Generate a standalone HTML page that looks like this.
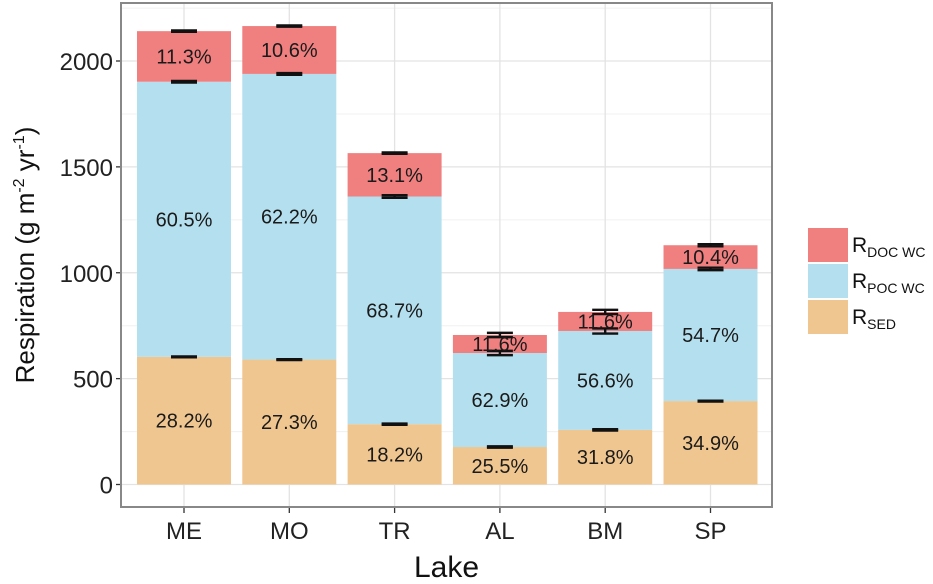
<!DOCTYPE html>
<html><head><meta charset="utf-8"><style>
body{margin:0;background:#fff;}
svg{display:block;font-family:"Liberation Sans",Arial,sans-serif;}
</style></head><body>
<svg id="c" width="933" height="584"></svg>
<script>
const lakes=["ME","MO","TR","AL","BM","SP"];
const sedVals=[603,590,285,177,258,394];
const pocTop=[1902,1939,1360,621,725,1018];
const totalVals=[2141,2165,1565,706,815,1130];
const sedPct=["28.2%","27.3%","18.2%","25.5%","31.8%","34.9%"];
const pocPct=["60.5%","62.2%","68.7%","62.9%","56.6%","54.7%"];
const docPct=["11.3%","10.6%","13.1%","11.6%","11.6%","10.4%"];
const yTicks=[0,500,1000,1500,2000];
const errSed=[2,2,3,3,3,2];
const errPoc=[4,4,6,10,12,6];
const errTot=[3,3,3,10,10,5];

const NS="http://www.w3.org/2000/svg";
const svg=document.getElementById('c');
const L=121,R=772,T=3,B=507;
const y0=484.5,k=(484.5-61)/2000;
const y=v=>y0-v*k;
const step=105.3,x=i=>184+i*step,bw=94;
function mk(t,a,p){const e=document.createElementNS(NS,t);for(const n in a)e.setAttribute(n,a[n]);(p||svg).appendChild(e);return e;}

mk('rect',{x:L,y:T,width:R-L,height:B-T,fill:'#fff'});
for(let i=0;i<yTicks.length-1;i++){const m=(yTicks[i]+yTicks[i+1])/2;mk('line',{x1:L,x2:R,y1:y(m),y2:y(m),stroke:'#f0f0f0','stroke-width':1});}
mk('line',{x1:L,x2:R,y1:y(2250),y2:y(2250),stroke:'#f0f0f0'});
yTicks.forEach(v=>{
 const g=mk('line',{x1:L,x2:R,y1:y(v),y2:y(v),stroke:'#e3e3e3','stroke-width':1.3});
 
 mk('line',{x1:L-5,x2:L,y1:y(v),y2:y(v),stroke:'#333','stroke-width':1.3});
 const t=mk('text',{x:L-8,y:y(v)+9,'text-anchor':'end','font-size':24,fill:'#222'});
 t.textContent=v;
 
});
lakes.forEach((n,i)=>{
 mk('line',{x1:x(i),x2:x(i),y1:T,y2:B,stroke:'#e3e3e3','stroke-width':1.3});
 mk('line',{x1:x(i),x2:x(i),y1:B,y2:B+6,stroke:'#333','stroke-width':1.3});
 const t=mk('text',{x:x(i),y:B+32,'text-anchor':'middle','font-size':24,fill:'#222'});
 t.textContent=n;
 
});
lakes.forEach((n,i)=>{
 const bx=x(i)-bw/2;
 const segs=[[0,sedVals[i],'#f0c690','sed',sedPct[i]],[sedVals[i],pocTop[i],'#b4dfee','poc',pocPct[i]],[pocTop[i],totalVals[i],'#f08080','doc',docPct[i]]];
 segs.forEach(s=>{
  const r=mk('rect',{x:bx,y:y(s[1]),width:bw,height:y(s[0])-y(s[1]),fill:s[2]});
  
 });
 const errs=[[sedVals[i],errSed[i]],[pocTop[i],errPoc[i]],[totalVals[i],errTot[i]]];
 errs.forEach(e=>{
  const g=mk('g',{stroke:'#111','stroke-width':2.4});
  
  mk('line',{x1:x(i),x2:x(i),y1:y(e[0]+e[1]),y2:y(e[0]-e[1])},g);
  mk('line',{x1:x(i)-13,x2:x(i)+13,y1:y(e[0]+e[1]),y2:y(e[0]+e[1])},g);
  mk('line',{x1:x(i)-13,x2:x(i)+13,y1:y(e[0]-e[1]),y2:y(e[0]-e[1])},g);
 });
 segs.forEach(s=>{
  const t=mk('text',{x:x(i),y:(y(s[0])+y(s[1]))/2+7,'text-anchor':'middle','font-size':20,fill:'#1a1a1a'});
  t.textContent=s[4];
  
 });
});
mk('rect',{x:L,y:T,width:R-L,height:B-T,fill:'none',stroke:'#888','stroke-width':2});
const xt=mk('text',{x:(L+R)/2,y:577,'text-anchor':'middle','font-size':30,fill:'#111'});xt.textContent='Lake';

const yt=mk('text',{transform:'translate(34,255) rotate(-90)','text-anchor':'middle','font-size':26,fill:'#111'});
yt.innerHTML='Respiration (g m<tspan font-size="16" dy="-10">-2</tspan><tspan dy="10"> yr</tspan><tspan font-size="16" dy="-10">-1</tspan><tspan dy="10">)</tspan>';

const leg=[['#f08080','DOC WC',228],['#b4dfee','POC WC',264],['#f0c690','SED',300]];
leg.forEach(l=>{
 const g=mk('g',{});
 
 mk('rect',{x:808,y:l[2],width:40,height:34,fill:l[0]},g);
 const t=mk('text',{x:852,y:l[2]+24,'font-size':21,fill:'#111'},g);
 t.innerHTML='R<tspan font-size="14" dy="5">'+l[1]+'</tspan>';
});
</script>
</body></html>
